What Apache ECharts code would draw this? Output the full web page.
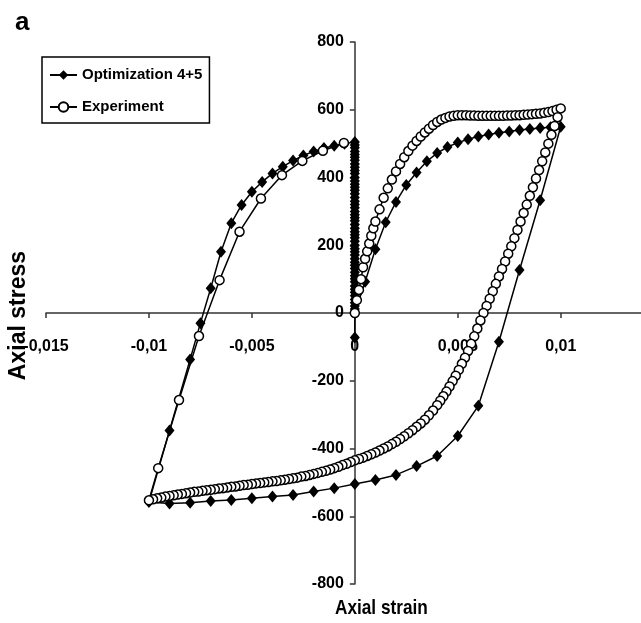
<!DOCTYPE html>
<html>
<head>
    <meta charset="utf-8">
    <script src="https://cdn.jsdelivr.net/npm/echarts@6/dist/echarts.min.js"></script>
    <style>
        html, body { margin: 0; padding: 0; background: #fff; }
    </style>
</head>
<body>
    <div id="main" style="width: 641px;height:623px;"></div>
    <script type="text/javascript">
        // axis ticks
        var xTicks = [-0.015, -0.01, -0.005, 0, 0.005, 0.01];
        var yTicks = [-800, -600, -400, -200, 0, 200, 400, 600, 800];
        var xMax = 0.0139;

        // Optimization 4+5 : [strain, stress]
        var optLoading = [
            [0, 0], [0.0005, 92], [0.001, 188], [0.0015, 268], [0.002, 328], [0.0025, 378],
            [0.003, 415], [0.0035, 448], [0.004, 472], [0.0045, 490], [0.005, 503], [0.0055, 513],
            [0.006, 521], [0.0065, 527], [0.007, 532], [0.0075, 536], [0.008, 540], [0.0085, 543],
            [0.009, 546], [0.0095, 548], [0.01, 550]
        ];
        var optUnloading = [
            [0.009, 333], [0.008, 127], [0.007, -85], [0.006, -274], [0.005, -363], [0.004, -422],
            [0.003, -452], [0.002, -478], [0.001, -493], [0, -505], [-0.001, -517], [-0.002, -527],
            [-0.003, -537], [-0.004, -542], [-0.005, -547], [-0.006, -552], [-0.007, -555],
            [-0.008, -560], [-0.009, -562], [-0.01, -558]
        ];
        var optReloading = [
            [-0.009, -347], [-0.008, -137], [-0.0075, -30], [-0.007, 73], [-0.0065, 181], [-0.006, 265],
            [-0.0055, 319], [-0.005, 358], [-0.0045, 387], [-0.004, 412], [-0.0035, 432], [-0.003, 450],
            [-0.0025, 465], [-0.002, 477], [-0.0015, 487], [-0.001, 494], [-0.0005, 500], [0, 505]
        ];
        var optReturn = [
            [0, 496], [0, 488], [0, 477], [0, 468], [0, 460], [0, 451], [0, 440], [0, 430], [0, 421],
            [0, 412], [0, 400], [0, 390], [0, 380], [0, 371], [0, 362], [0, 352], [0, 341], [0, 330],
            [0, 320], [0, 311], [0, 300], [0, 290], [0, 281], [0, 272], [0, 261], [0, 250], [0, 240],
            [0, 231], [0, 222], [0, 212], [0, 200], [0, 190], [0, 181], [0, 171], [0, 160], [0, 150],
            [0, 141], [0, 131], [0, 120], [0, 110], [0, 101], [0, 92], [0, 80], [0, 70], [0, 61],
            [0, 51], [0, 40], [0, 30], [0, 21], [0, 12], [0, -72]
        ];

        // Experiment : [strain, stress]
        var expLoading = [
            [0, 0], [0.0001, 38], [0.0002, 68], [0.0003, 100], [0.0004, 135], [0.0005, 160],
            [0.0006, 182], [0.0007, 205], [0.0008, 228], [0.0009, 250], [0.001, 270], [0.0012, 306],
            [0.0014, 340], [0.0016, 368], [0.0018, 394], [0.002, 418], [0.0022, 440], [0.0024, 460],
            [0.0026, 478], [0.0028, 494], [0.003, 508], [0.0032, 521], [0.0034, 533], [0.0036, 544],
            [0.0038, 555], [0.004, 564], [0.0042, 571], [0.0044, 576], [0.0046, 580], [0.0048, 582],
            [0.005, 584], [0.0052, 584], [0.0054, 584], [0.0056, 583], [0.0058, 583], [0.006, 582],
            [0.0062, 582], [0.0064, 582], [0.0066, 582], [0.0068, 582], [0.007, 582], [0.0072, 582],
            [0.0074, 583], [0.0076, 583], [0.0078, 584], [0.008, 584], [0.0082, 585], [0.0084, 586],
            [0.0086, 587], [0.0088, 588], [0.009, 589], [0.0092, 591], [0.0094, 593], [0.0096, 596],
            [0.0098, 600], [0.01, 604]
        ];
        var expUnloading = [
            [0.00985, 578], [0.0097, 552], [0.00955, 526], [0.0094, 500], [0.00925, 474], [0.0091, 448],
            [0.00895, 422], [0.0088, 397], [0.00865, 371], [0.0085, 346], [0.00835, 320], [0.0082, 295],
            [0.00805, 270], [0.0079, 245], [0.00775, 221], [0.0076, 197], [0.00745, 175], [0.0073, 152],
            [0.00715, 130], [0.007, 108], [0.00685, 86], [0.0067, 64], [0.00655, 42], [0.0064, 21],
            [0.00625, 0], [0.0061, -22], [0.00595, -46], [0.0058, -69], [0.00565, -91], [0.0055, -112],
            [0.00535, -132], [0.0052, -150], [0.00505, -168], [0.0049, -185], [0.00475, -201],
            [0.0046, -217], [0.00445, -232], [0.0043, -246], [0.00415, -259], [0.004, -272],
            [0.0038, -288], [0.0036, -302], [0.0034, -315], [0.0032, -326], [0.003, -336], [0.0028, -346],
            [0.0026, -355], [0.0024, -364], [0.0022, -372], [0.002, -380], [0.0018, -387], [0.0016, -394],
            [0.0014, -400], [0.0012, -406], [0.001, -412], [0.0008, -417], [0.0006, -422], [0.0004, -427],
            [0.0002, -431], [0, -435], [-0.0002, -440], [-0.0004, -445], [-0.0006, -449], [-0.0008, -454],
            [-0.001, -458], [-0.0012, -462], [-0.0014, -466], [-0.0016, -469], [-0.0018, -472],
            [-0.002, -475], [-0.0022, -478], [-0.0024, -481], [-0.0026, -483], [-0.0028, -486],
            [-0.003, -488], [-0.0032, -490], [-0.0034, -492], [-0.0036, -494], [-0.0038, -496],
            [-0.004, -497], [-0.0042, -499], [-0.0044, -500], [-0.0046, -502], [-0.0048, -503],
            [-0.005, -505], [-0.0052, -507], [-0.0054, -508], [-0.0056, -510], [-0.0058, -512],
            [-0.006, -513], [-0.0062, -515], [-0.0064, -517], [-0.0066, -518], [-0.0068, -520],
            [-0.007, -522], [-0.0072, -523], [-0.0074, -525], [-0.0076, -527], [-0.0078, -528],
            [-0.008, -530], [-0.0082, -532], [-0.0084, -534], [-0.0086, -536], [-0.0088, -538],
            [-0.009, -540], [-0.0092, -542], [-0.0094, -545], [-0.0096, -547], [-0.0098, -550],
            [-0.01, -553]
        ];
        var expReloading = [
            [-0.00955, -458], [-0.00854, -257], [-0.00757, -68], [-0.00657, 97], [-0.0056, 240],
            [-0.00456, 338], [-0.00354, 407], [-0.00255, 449], [-0.00155, 479], [-0.00053, 502]
        ];

        var SANS = "'Liberation Sans', Arial, sans-serif";

        // grid in pixels
        var gridLeft = 46, gridRight = 0, gridTop = 42, gridBottom = 39;
        var plotW = 641 - gridLeft - gridRight;
        var plotH = 623 - gridTop - gridBottom;
        // move axes so they cross at the origin (labels follow)
        var yAxisOffset = -(0 - xTicks[0]) / (xMax - xTicks[0]) * plotW;
        var xAxisOffset = -(0 - yTicks[0]) / (yTicks[yTicks.length - 1] - yTicks[0]) * plotH;

        function fmtComma(v) {
            return String(+v.toFixed(4)).replace('.', ',');
        }

        var option = {
            animation: false,
            backgroundColor: '#fff',
            title: {
                text: 'a',
                left: 10,
                top: 5,
                textStyle: { fontFamily: SANS, fontWeight: 'bold', fontSize: 26, color: '#000' }
            },
            legend: {
                left: 42,
                top: 57,
                orient: 'vertical',
                padding: [8, 7, 6, 7],
                itemGap: 12,
                itemWidth: 27,
                itemHeight: 12,
                borderColor: '#000',
                borderWidth: 1.5,
                backgroundColor: '#fff',
                textStyle: { fontFamily: SANS, fontWeight: 'bold', fontSize: 15, color: '#000', lineHeight: 20 },
                data: ['Optimization 4+5', 'Experiment']
            },
            grid: {
                left: gridLeft,
                right: gridRight,
                top: gridTop,
                bottom: gridBottom
            },
            xAxis: {
                type: 'value',
                min: xTicks[0],
                max: xMax,
                interval: 0.005,
                offset: xAxisOffset,
                splitLine: { show: false },
                axisLine: { onZero: false, lineStyle: { color: '#333', width: 1.5 } },
                axisTick: { show: true, length: 5, lineStyle: { color: '#333', width: 1.5 } },
                axisLabel: {
                    margin: 26,
                    showMaxLabel: false,
                    fontFamily: SANS,
                    fontWeight: 'bold',
                    fontSize: 16,
                    color: '#000',
                    formatter: function (v) {
                        for (var i = 0; i < xTicks.length; i++) {
                            if (Math.abs(v - xTicks[i]) < 1e-9) return fmtComma(xTicks[i]);
                        }
                        return '';
                    }
                }
            },
            yAxis: {
                type: 'value',
                min: yTicks[0],
                max: yTicks[yTicks.length - 1],
                interval: 200,
                offset: yAxisOffset,
                splitLine: { show: false },
                axisLine: { onZero: false, lineStyle: { color: '#333', width: 1.5 } },
                axisTick: { show: true, length: 5, lineStyle: { color: '#333', width: 1.5 } },
                axisLabel: {
                    margin: 11,
                    fontFamily: SANS,
                    fontWeight: 'bold',
                    fontSize: 16,
                    color: '#000'
                }
            },
            graphic: [
                {
                    type: 'text',
                    left: 7,
                    top: 251,
                    rotation: Math.PI / 2,
                    style: {
                        text: 'Axial stress',
                        font: 'bold 23px ' + SANS,
                        fill: '#000'
                    }
                },
                {
                    type: 'text',
                    left: 335,
                    top: 598,
                    scaleX: 0.82,
                    style: {
                        text: 'Axial strain',
                        font: 'bold 21px ' + SANS,
                        fill: '#000'
                    }
                }
            ],
            series: [
                {
                    name: 'Optimization 4+5',
                    type: 'line',
                    symbol: 'diamond',
                    symbolSize: [10, 12],
                    showAllSymbol: true,
                    itemStyle: { color: '#000' },
                    lineStyle: { color: '#000', width: 1.5 },
                    data: optLoading.concat(optUnloading, optReloading, optReturn)
                },
                {
                    name: 'Experiment',
                    type: 'line',
                    symbol: 'circle',
                    symbolSize: 9,
                    showAllSymbol: true,
                    itemStyle: { color: '#fff', borderColor: '#000', borderWidth: 1.5 },
                    lineStyle: { color: '#000', width: 1.5 },
                    data: expLoading.concat(expUnloading, expReloading)
                }
            ]
        };

        var myChart = echarts.init(document.getElementById('main'));
        myChart.setOption(option);
    </script>
</body>
</html>
